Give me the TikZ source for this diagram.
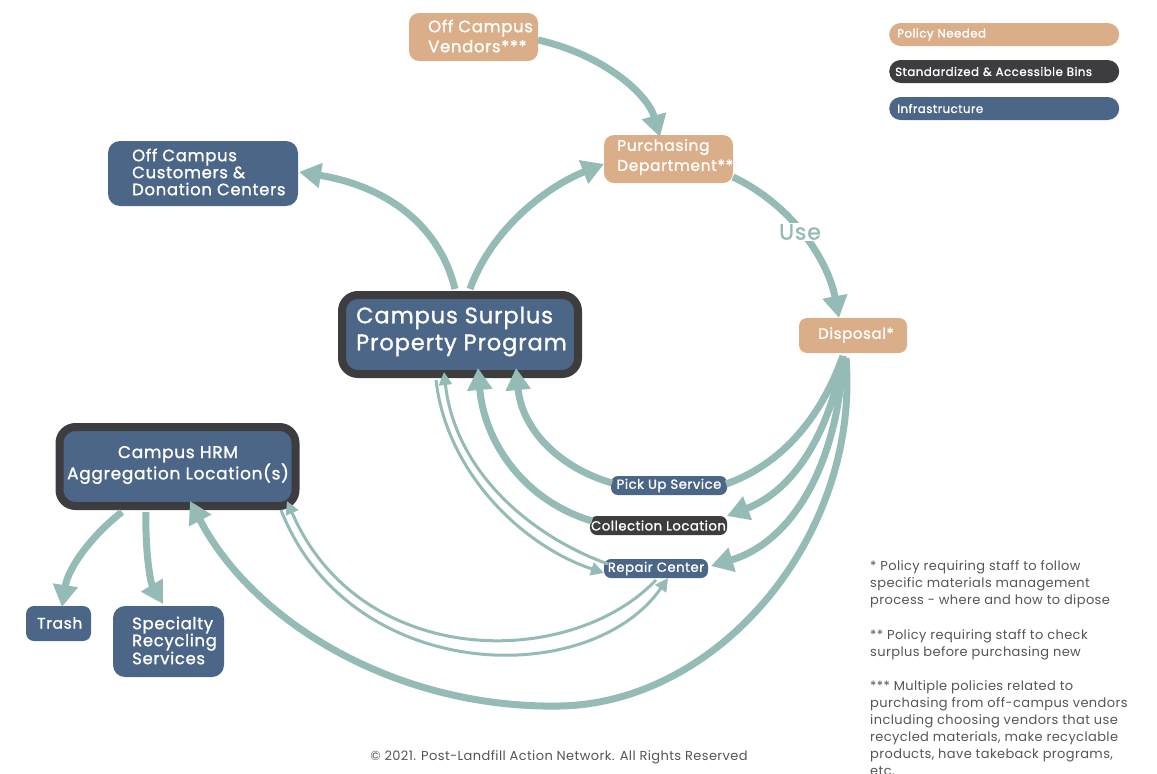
\documentclass[tikz,border=0pt]{standalone}
\usepackage{fontspec}
\setmainfont{Poppins}
\newfontfamily\nodefont{Poppins}[LetterSpace=4,FakeBold=1.2]
\newfontfamily\notefont{Poppins}[LetterSpace=3]
\usetikzlibrary{arrows.meta}
\definecolor{peach}{HTML}{DBAE8A}
\definecolor{darkbin}{HTML}{3D3D3F}
\definecolor{navy}{HTML}{4C6687}
\definecolor{flowc}{HTML}{94BBB5}
\definecolor{notec}{HTML}{555555}
\newcommand{\fs}[2]{\fontsize{#1}{#2}\selectfont}
\begin{document}
\begin{tikzpicture}[x=1pt,y=-1pt,
  box/.style={rounded corners=10pt, inner sep=0pt, draw=none},
  pol/.style={box, fill=peach},
  inf/.style={box, fill=navy},
  bin/.style={box, fill=darkbin},
  bigbox/.style={draw=darkbin, line width=8pt, fill=navy, rounded corners=16pt, inner sep=0pt, minimum width=236pt, minimum height=79pt},
  lbl/.style={text=white, align=left, inner sep=0pt, font=\nodefont\fs{16.5}{17}, anchor=west},
  small/.style={rounded corners=7pt, inner sep=0pt, minimum height=19pt, text=white, font=\nodefont\fs{13.2}{13}},
  pill/.style={rounded corners=11.5pt, inner xsep=8pt, inner ysep=0pt, text width=214pt, align=left, minimum height=23pt, text=white, font=\nodefont\fs{11.8}{12}, anchor=west},
  flow/.style={draw=flowc, line width=7pt, -{Triangle[length=22pt,width=24pt]}},
  flown/.style={draw=flowc, line width=7pt},
  thin/.style={draw=flowc, line width=3pt, -{Triangle[length=13pt,width=13pt]}},
  note/.style={text=notec, font=\notefont\fs{13}{17}, align=left, anchor=north west, inner sep=0pt}
]
\useasboundingbox (0,0) rectangle (1157,774);

% ---------- nodes ----------
\node[pol, minimum width=129pt, minimum height=48pt] (vend) at (473.5,37) {};
\node[lbl, font=\nodefont\fs{16.5}{20}] (vendT) at (428,36) {Off Campus\\Vendors***};

\node[pol, minimum width=129pt, minimum height=48pt] (purch) at (668.5,159) {};
\node[lbl, font=\nodefont\fs{15.5}{20}] (purchT) at (617,157) {Purchasing\\Department**};

\node[inf, rounded corners=12pt, minimum width=190pt, minimum height=65pt] (cust) at (203,173.5) {};
\node[lbl] (custT) at (132,172) {Off Campus\\Customers \&\\Donation Centers};

\node[bigbox] (surp) at (460,334.5) {};
\node[lbl, font=\nodefont\fs{22.5}{27}] (surpT) at (356,331.5) {Campus Surplus\\Property Program};

\node[pol, rounded corners=8pt, minimum width=108pt, minimum height=35pt] (disp) at (853,335.5) {};
\node[lbl, font=\nodefont\fs{15}{17}] (dispT) at (818,335) {Disposal*};

\node[bigbox] (hrm) at (177.5,466.5) {};
\node[text=white, align=center, inner sep=0pt, font=\nodefont\fs{17}{17}] (hrmT) at (178,465) {Campus HRM\\Aggregation Location(s)};

\node[inf, rounded corners=8pt, minimum width=65pt, minimum height=35pt] (trash) at (58.5,623.5) {};
\node[lbl, font=\nodefont\fs{15.5}{17}] (trashT) at (37,623) {Trash};

\node[inf, rounded corners=12pt, minimum width=111pt, minimum height=71pt] (spec) at (168.5,641.5) {};
\node[lbl] (specT) at (132,640.5) {Specialty\\Recycling\\Services};

\node[small, fill=navy, minimum width=116pt] (pick) at (669,485.5) {Pick Up Service};
\node[small, fill=darkbin, minimum width=137pt] (coll) at (658.5,525.5) {Collection Location};
\node[small, fill=navy, minimum width=104pt] (rep) at (656,568.5) {Repair Center};

% legend
\node[pill, fill=peach] (lg1) at (889,34.5) {Policy Needed};
\node[pill, fill=darkbin, inner xsep=6pt, text width=218pt] (lg2) at (889,71.5) {Standardized \& Accessible Bins};
\node[pill, fill=navy] (lg3) at (889,108.5) {Infrastructure};

% ---------- connectors ----------
\coordinate (vendE) at (538,40);
\coordinate (purchN) at (660,137);
\draw[flow] (vendE) .. controls (605,55) and (648,95) .. (purchN);

\coordinate (purchE) at (733,177);
\coordinate (dispN) at (839,318);
\draw[flow] (purchE) .. controls (792,205) and (828,260) .. (dispN);
\node[fill=white, text=flowc, font=\nodefont\fs{22}{22}, inner sep=1pt] (use) at (800,232) {Use};

\coordinate (surpN1) at (470,289);
\coordinate (purchW) at (604,164);
\draw[flow] (surpN1) .. controls (492,228) and (548,186) .. (purchW);

\coordinate (surpN2) at (455,289);
\coordinate (custE) at (299,172);
\draw[flow] (surpN2) .. controls (438,220) and (380,185) .. (custE);

\coordinate (dispS) at (843,356);
\coordinate (pickE) at (726,484);
\draw[flown] (dispS) .. controls (820,420) and (780,465) .. (pickE);
\coordinate (pickW) at (612,483);
\coordinate (surpS3) at (516,368);
\draw[flow] (pickW) .. controls (560,468) and (522,430) .. (surpS3);

\coordinate (collE) at (727,516);
\draw[flow] (dispS) .. controls (828,440) and (790,492) .. (collE);
\coordinate (collW) at (592,521);
\coordinate (surpS2) at (478,368);
\draw[flow] (collW) .. controls (522,500) and (484,440) .. (surpS2);

\coordinate (repE) at (711,566);
\draw[flow] (dispS) .. controls (838,465) and (792,542) .. (repE);

% Surplus <-> Repair (two thin lines)
\coordinate (surpS1a) at (436,380);
\coordinate (repW) at (604,573);
\draw[thin] (surpS1a) .. controls (446,470) and (520,545) .. (repW);
\coordinate (repW2) at (608,564);
\coordinate (surpS1b) at (444,372);
\draw[thin] (repW2) .. controls (528,535) and (455,470) .. (surpS1b);

% HRM <-> Repair (two thin lines)
\coordinate (repS1) at (656,580);
\coordinate (hrmE) at (287,501);
\draw[thin] (repS1) .. controls (570,670) and (360,670) .. (hrmE);
\coordinate (hrmE2) at (281,510);
\coordinate (repS2) at (668,578);
\draw[thin] (hrmE2) .. controls (350,685) and (590,690) .. (repS2);

% Disposal -> HRM (big loop)
\coordinate (dispS2) at (846,358);
\coordinate (loopB) at (560,706);
\coordinate (hrmS) at (190,501);
\draw[flown] (dispS2) .. controls (860,535) and (720,703) .. (loopB);
\draw[flow] (loopB) .. controls (400,709) and (255,625) .. (hrmS);

% HRM -> Trash, Specialty
\coordinate (hrmS1) at (122,512);
\coordinate (trashN) at (62,607);
\draw[flow] (hrmS1) .. controls (92,535) and (68,568) .. (trashN);
\coordinate (hrmS2) at (146,512);
\coordinate (specN) at (163,604);
\draw[flow] (hrmS2) .. controls (145,548) and (150,582) .. (specN);

% ---------- notes ----------
\node[note] (n1) at (870,560) {* Policy requiring staff to follow\\specific materials management\\process - where and how to dipose};
\node[note] (n2) at (870,629) {** Policy requiring staff to check\\surplus before purchasing new};
\node[note] (n3) at (870,680) {*** Multiple policies related to\\purchasing from off-campus vendors\\including choosing vendors that use\\recycled materials, make recyclable\\products, have takeback programs,\\etc.};
\node[text=notec, font=\notefont\fs{13}{13}, inner sep=0pt] (copy) at (559,757) {© 2021. Post-Landfill Action Network. All Rights Reserved};
\end{tikzpicture}
\end{document}
